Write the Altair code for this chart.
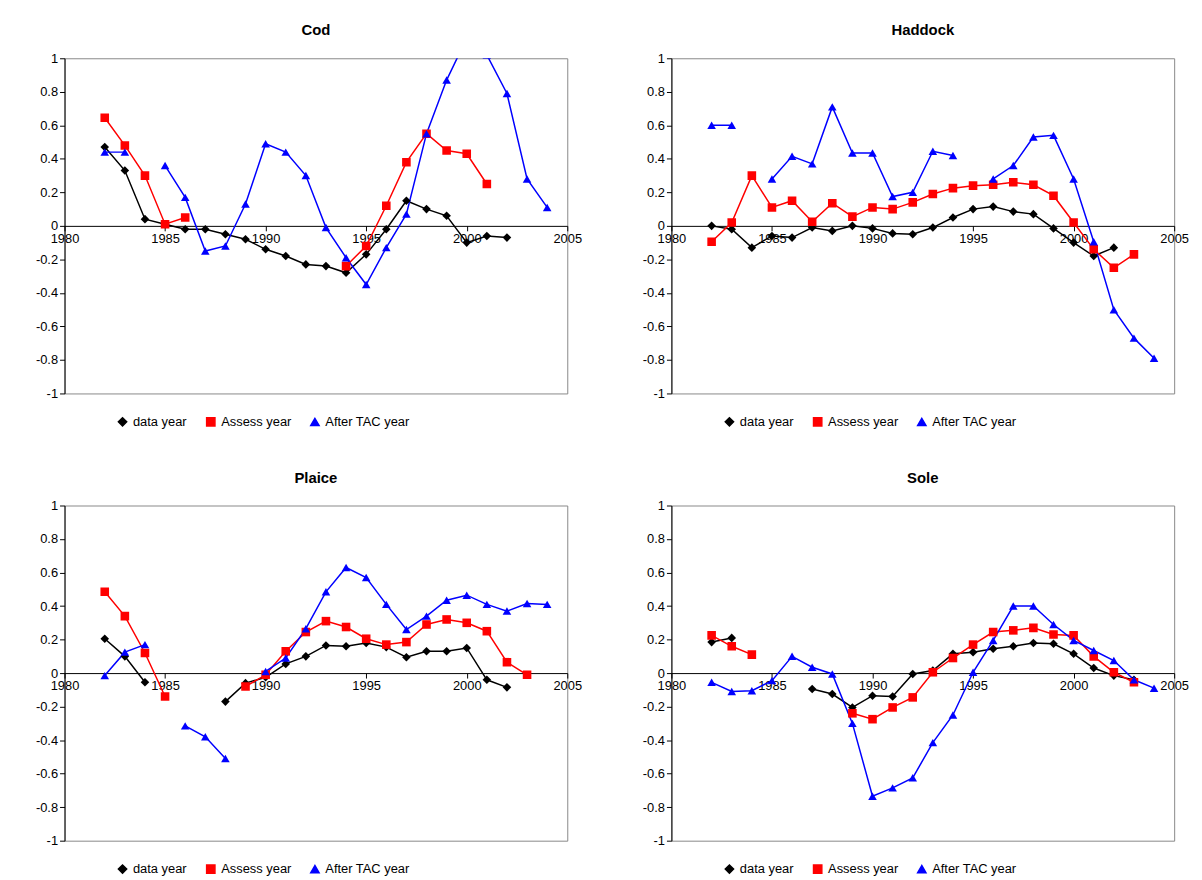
import altair as alt
import pandas as pd

years = list(range(1982, 2005))
N = None

cod_data = [0.47, 0.33, 0.04, 0.01, -0.02, -0.02, -0.05, -0.08, -0.14, -0.18, -0.23, -0.24,
            -0.28, -0.17, -0.02, 0.15, 0.10, 0.06, -0.10, -0.06, -0.07, N, N]
cod_assess = [0.645, 0.48, 0.30, 0.01, 0.05, N, N, N, N, N, N, N,
              -0.24, -0.12, 0.12, 0.38, 0.55, 0.45, 0.43, 0.25, N, N, N]
cod_tac = [0.44, 0.44, N, 0.36, 0.17, -0.15, -0.12, 0.13, 0.49, 0.44, 0.30, -0.01,
           -0.19, -0.35, -0.13, 0.07, 0.55, 0.87, 1.12, 1.02, 0.79, 0.28, 0.11]

had_data = [0.0, -0.02, -0.13, -0.06, -0.07, -0.01, -0.03, 0.0, -0.015, -0.045, -0.05, -0.01,
            0.05, 0.10, 0.115, 0.085, 0.07, -0.015, -0.10, -0.18, -0.13, N, N]
had_assess = [-0.095, 0.02, 0.30, 0.11, 0.15, 0.025, 0.135, 0.055, 0.11, 0.10, 0.14, 0.19,
              0.225, 0.24, 0.245, 0.26, 0.245, 0.18, 0.02, -0.14, -0.25, -0.17, N]
had_tac = [0.60, 0.60, N, 0.28, 0.415, 0.37, 0.71, 0.435, 0.435, 0.175, 0.20, 0.445,
           0.42, N, 0.28, 0.36, 0.53, 0.54, 0.28, -0.095, -0.50, -0.67, -0.79]

pla_data = [0.205, 0.10, -0.055, N, N, N, -0.17, -0.06, -0.025, 0.055, 0.10, 0.165,
            0.16, 0.18, 0.155, 0.095, 0.13, 0.13, 0.15, -0.04, -0.085, N, N]
pla_assess = [0.485, 0.34, 0.12, -0.14, N, N, N, -0.08, -0.01, 0.13, 0.245, 0.31,
              0.275, 0.205, 0.17, 0.185, 0.29, 0.32, 0.30, 0.25, 0.065, -0.01, N]
pla_tac = [-0.015, 0.125, 0.17, N, -0.315, -0.38, -0.51, N, 0.01, 0.09, 0.265, 0.485,
           0.63, 0.57, 0.41, 0.26, 0.34, 0.435, 0.465, 0.41, 0.37, 0.415, 0.41]

sol_data = [0.185, 0.21, N, N, N, -0.095, -0.125, -0.205, -0.135, -0.14, -0.005, 0.015,
            0.115, 0.125, 0.145, 0.16, 0.18, 0.175, 0.115, 0.03, -0.015, -0.04, N]
sol_assess = [0.225, 0.16, 0.11, N, N, N, N, -0.24, -0.275, -0.205, -0.145, 0.005,
              0.09, 0.17, 0.245, 0.255, 0.27, 0.23, 0.225, 0.10, 0.005, -0.055, N]
sol_tac = [-0.055, -0.11, -0.105, -0.045, 0.10, 0.035, -0.005, -0.30, -0.735, -0.685, -0.625, -0.415,
           -0.25, 0.005, 0.195, 0.40, 0.40, 0.29, 0.195, 0.135, 0.075, -0.04, -0.09]

series = ["data year", "Assess year", "After TAC year"]
colors = ["#000000", "#ff0000", "#0000ff"]
shapes = ["diamond", "square", "triangle-up"]


def make_frame(values):
    rows = []
    for name, vals in zip(series, values):
        seg = 0
        for yr, v in zip(years, vals):
            if v is None:
                seg += 1
                continue
            rows.append({"year": yr, "value": v, "series": name, "seg": f"{name}-{seg}"})
    return pd.DataFrame(rows)


def panel(title, values):
    df = make_frame(values)
    x = alt.X("year:Q", scale=alt.Scale(domain=[1980, 2005], nice=False),
              axis=alt.Axis(values=[1980, 1985, 1990, 1995, 2000, 2005], format="d",
                            title=None, grid=False, offset=-169, domainColor="black",
                            tickColor="black", labelColor="black", labelFontSize=13,
                            labelFlush=False))
    y = alt.Y("value:Q", scale=alt.Scale(domain=[-1, 1], nice=False),
              axis=alt.Axis(values=[-1, -0.8, -0.6, -0.4, -0.2, 0, 0.2, 0.4, 0.6, 0.8, 1],
                            format="~g", title=None, grid=False, domainColor="black",
                            tickColor="black", labelColor="black", labelFontSize=13,
                            labelExpr="replace(datum.label, '\u2212', '-')"))
    legend = alt.Legend(title=None, orient="none", legendX=52, legendY=360,
                        direction="horizontal",
                        labelFontSize=13, symbolSize=70, columnPadding=16,
                        symbolStrokeWidth=1.5)
    color = alt.Color("series:N", scale=alt.Scale(domain=series, range=colors), legend=legend)
    shape = alt.Shape("series:N", scale=alt.Scale(domain=series, range=shapes), legend=legend)
    lines = alt.Chart(df).mark_line(strokeWidth=1.5, clip=True).encode(
        x=x, y=y, detail="seg:N", color=color)
    points = alt.Chart(df).mark_point(filled=True, size=75, opacity=1, clip=True).encode(
        x=x, y=y, color=color, shape=shape)
    return (lines + points).properties(
        width=507, height=338,
        title=alt.TitleParams(title, fontSize=15, fontWeight="bold", offset=14))


charts = [
    panel("Cod", [cod_data, cod_assess, cod_tac]),
    panel("Haddock", [had_data, had_assess, had_tac]),
    panel("Plaice", [pla_data, pla_assess, pla_tac]),
    panel("Sole", [sol_data, sol_assess, sol_tac]),
]

chart = alt.vconcat(
    alt.hconcat(charts[0], charts[1], spacing=60).resolve_legend(color="independent", shape="independent"),
    alt.hconcat(charts[2], charts[3], spacing=60).resolve_legend(color="independent", shape="independent"),
    spacing=40,
).resolve_legend(color="independent", shape="independent").properties(
    padding={"left": 27, "top": 11, "right": 5, "bottom": 5}
).configure(
    font="Liberation Sans"
).configure_view(stroke="#888888")

chart.save("out.html", embed_options={"renderer": "svg", "actions": False})
